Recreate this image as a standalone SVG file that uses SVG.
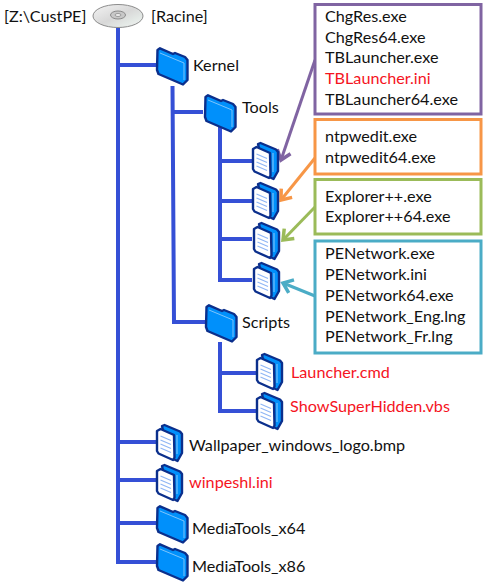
<svg xmlns="http://www.w3.org/2000/svg" width="487" height="586" viewBox="0 0 487 586">
<style>
text{font-family:"Lato","Carlito","Noto Sans",sans-serif;font-size:16.2px;fill:#111}
.r{fill:#f5141e}
.l{fill:none;stroke:#3550d6;stroke-width:4}
.box{fill:#fff;stroke-width:3}
.a{fill:none;stroke-width:3}
.o{stroke:#0b2f8c;stroke-width:2.4;stroke-linejoin:round}
.h{fill:none;stroke-width:3.500}
</style>
<defs>
<marker id="mp" markerWidth="20" markerHeight="20" refX="0" refY="0" orient="auto" markerUnits="userSpaceOnUse" overflow="visible"><path class="h" d="M-9-7L0 0-9 7" stroke="#8064a2"/></marker>
<marker id="mo" markerWidth="20" markerHeight="20" refX="0" refY="0" orient="auto" markerUnits="userSpaceOnUse" overflow="visible"><path class="h" d="M-9-7L0 0-9 7" stroke="#f79646"/></marker>
<marker id="mg" markerWidth="20" markerHeight="20" refX="0" refY="0" orient="auto" markerUnits="userSpaceOnUse" overflow="visible"><path class="h" d="M-9-7L0 0-9 7" stroke="#9bbb59"/></marker>
<marker id="mt" markerWidth="20" markerHeight="20" refX="0" refY="0" orient="auto" markerUnits="userSpaceOnUse" overflow="visible"><path class="h" d="M-9-7L0 0-9 7" stroke="#4bacc6"/></marker>
<linearGradient id="disc" x1="0" y1="0" x2="1" y2="1"><stop offset="0" stop-color="#f4f4f4"/><stop offset=".5" stop-color="#d8d8d8"/><stop offset=".75" stop-color="#e4e9e6"/><stop offset="1" stop-color="#f2f2f2"/></linearGradient>
<symbol id="folder" overflow="visible">
<path class="o" fill="#0090fb" d="M1.500 3L4 1.300 17 7 19 6 29 10 31.500 13V33L27 37.500 2.500 27 1 23Z"/>
<path fill="none" stroke="#7cc4fb" stroke-width="1" d="M4 6L28 16V33"/>
</symbol>
<symbol id="doc" overflow="visible">
<path class="o" fill="#0090fb" d="M6 2L8.500 1 24 7.500 26 10V29L21.500 37 13 33Z"/>
<path fill="none" stroke="#8cc8fb" stroke-width="1" d="M21 11V30"/>
<path class="o" fill="#fff" d="M1 7L4.500 5 18 11 18.500 33.500 17 36 2.500 29.500 1 27Z"/>
<path fill="none" stroke="#8fb6f5" stroke-width="1.200" d="M4.500 12L15 16.500M4.500 16L15 20.500M4.500 20L15 24.500M4.500 24L15 28.500"/>
</symbol>
</defs>

<g id="connectors">
<path class="l" d="M118 28V562H156M118 65H156M118 442H156M118 480H156M118 523H156"/>
<path class="l" d="M172.500 86L174 322H205M173 112H203"/>
<path class="l" d="M220 127V280H252M220 161H252M220 201H252M220 239H252"/>
<path class="l" d="M220 342V411H256M220 373H256"/>
<path class="a" stroke="#8064a2" d="M315 60L281 160" marker-end="url(#mp)"/>
<path class="a" stroke="#f79646" d="M315 158L281 200" marker-end="url(#mo)"/>
<path class="a" stroke="#9bbb59" d="M315 207L283 240" marker-end="url(#mg)"/>
<path class="a" stroke="#4bacc6" d="M315 296L283 283" marker-end="url(#mt)"/>
</g>

<g id="root">
<text x="4" y="22">[Z:\CustPE]</text>
<ellipse cx="118" cy="16" rx="25" ry="11.500" fill="url(#disc)" stroke="#8c8c8c"/>
<ellipse cx="118" cy="15" rx="7.500" ry="4" fill="#c8c8c8" stroke="#8a8a8a"/>
<ellipse cx="118" cy="15" rx="3" ry="1.500" fill="#efefef" stroke="#999"/>
<text x="151" y="22">[Racine]</text>
</g>
<g id="kernel"><use href="#folder" x="156" y="47"/><text x="193" y="71">Kernel</text></g>
<g id="tools"><use href="#folder" x="204" y="94"/><text x="242" y="113">Tools</text></g>
<g id="doc1"><use href="#doc" x="252" y="142"/></g>
<g id="doc2"><use href="#doc" x="252" y="182"/></g>
<g id="doc3"><use href="#doc" x="253" y="222"/></g>
<g id="doc4"><use href="#doc" x="253" y="262"/></g>
<g id="scripts"><use href="#folder" x="205" y="304"/><text x="242" y="328">Scripts</text></g>
<g id="launcher"><use href="#doc" x="256" y="353"/><text class="r" x="291" y="378">Launcher.cmd</text></g>
<g id="showsuperhidden"><use href="#doc" x="256" y="392"/><text class="r" x="290" y="412">ShowSuperHidden.vbs</text></g>
<g id="wallpaper"><use href="#doc" x="156" y="424"/><text x="189" y="451">Wallpaper_windows_logo.bmp</text></g>
<g id="winpeshl"><use href="#doc" x="156" y="464"/><text class="r" x="189" y="488">winpeshl.ini</text></g>
<g id="mediatools64"><use href="#folder" x="156" y="505"/><text x="192" y="534">MediaTools_x64</text></g>
<g id="mediatools86"><use href="#folder" x="156" y="543"/><text x="192" y="572">MediaTools_x86</text></g>

<g id="box-purple"><rect class="box" stroke="#8064a2" x="315" y="4.500" width="166" height="109.500"/>
<text x="325" y="22">ChgRes.exe</text><text x="325" y="43">ChgRes64.exe</text><text x="325" y="63">TBLauncher.exe</text><text class="r" x="325" y="84">TBLauncher.ini</text><text x="325" y="105">TBLauncher64.exe</text></g>
<g id="box-orange"><rect class="box" stroke="#f79646" x="315" y="119.500" width="166" height="54.500"/>
<text x="325" y="142">ntpwedit.exe</text><text x="325" y="163">ntpwedit64.exe</text></g>
<g id="box-green"><rect class="box" stroke="#9bbb59" x="315" y="179.500" width="166" height="54.500"/>
<text x="325" y="202">Explorer++.exe</text><text x="325" y="222">Explorer++64.exe</text></g>
<g id="box-teal"><rect class="box" stroke="#4bacc6" x="315" y="241" width="166" height="112"/>
<text x="325" y="259">PENetwork.exe</text><text x="325" y="280">PENetwork.ini</text><text x="325" y="301">PENetwork64.exe</text><text x="325" y="322">PENetwork_Eng.lng</text><text x="325" y="342">PENetwork_Fr.lng</text></g>
</svg>
